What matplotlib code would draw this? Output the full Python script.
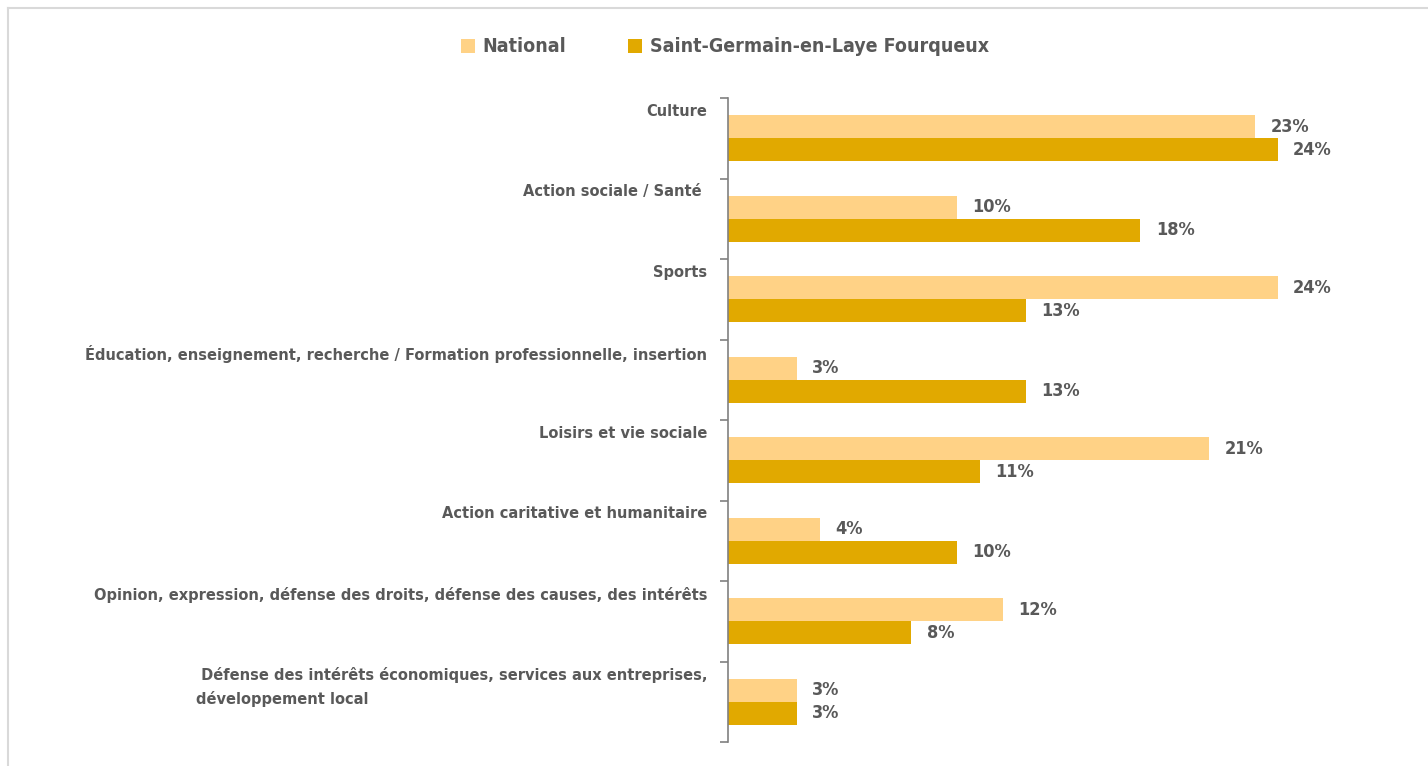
import matplotlib
matplotlib.use('Agg')
from matplotlib import pyplot as plt
from matplotlib import font_manager
from matplotlib.patches import Patch
from matplotlib.lines import Line2D

categories = [
    'Culture',
    'Action sociale / Santé ',
    'Sports',
    'Éducation, enseignement, recherche / Formation professionnelle, insertion',
    'Loisirs et vie sociale',
    'Action caritative et humanitaire',
    'Opinion, expression, défense des droits, défense des causes, des intérêts',
    ' Défense des intérêts économiques, services aux entreprises,\ndéveloppement local',
]
national = [23, 10, 24, 3, 21, 4, 12, 3]
local = [24, 18, 13, 13, 11, 10, 8, 3]
series_names = ['National', 'Saint-Germain-en-Laye Fourqueux']

c_nat = '#FFD286'
c_loc = '#E1A900'
grey = '#595959'

# pick the narrowest bold face that is installed
order = {'ultra-condensed': 0, 'extra-condensed': 1, 'condensed': 2, 'semi-condensed': 3}
best = None
for f in font_manager.fontManager.ttflist:
    if f.name in ('Noto Sans', 'DejaVu Sans', 'Open Sans', 'Roboto', 'Liberation Sans Narrow') \
            and f.stretch in order:
        w = f.weight if isinstance(f.weight, int) else 700
        if w < 600:
            continue
        key = (order[f.stretch], f.name)
        if best is None or key < best[0]:
            best = (key, f.name, f.stretch)
if best:
    family, stretch = best[1], best[2]
    scale = {0: 1.15, 1: 1.1, 2: 1.0, 3: 0.95}[order[stretch]]
else:
    family, stretch, scale = 'DejaVu Sans', 'normal', 0.85
plt.rcParams['font.family'] = [family, 'DejaVu Sans']
plt.rcParams['font.weight'] = 'bold'
plt.rcParams['font.stretch'] = stretch

fig = plt.figure(figsize=(14.28, 7.66), dpi=100)
ax = fig.add_axes([728 / 1428, 1 - 742 / 766, 692 / 1428, (742 - 98) / 766])

h = 0.285
ys = list(range(len(categories)))
ax.barh([y - h / 2 for y in ys], national, height=h, color=c_nat)
ax.barh([y + h / 2 for y in ys], local, height=h, color=c_loc)

ax.set_xlim(0, 30.2)
ax.set_ylim(len(categories) - 0.5, -0.5)

fs = 13 * scale
fs_cat = fs * 0.9
for y, v in zip(ys, national):
    ax.annotate(f'{v}%', xy=(v, y - h / 2), xytext=(11, 0), textcoords='offset points',
                va='center', ha='left', fontsize=fs, color=grey, fontweight='bold')
for y, v in zip(ys, local):
    ax.annotate(f'{v}%', xy=(v, y + h / 2), xytext=(11, 0), textcoords='offset points',
                va='center', ha='left', fontsize=fs, color=grey, fontweight='bold')

for y, lab in zip(ys, categories):
    ax.annotate(lab, xy=(0, y - 0.43), xycoords=('axes fraction', 'data'),
                xytext=(-15, 0), textcoords='offset points', ha='right', va='top',
                multialignment='left', fontsize=fs_cat, color=grey, fontweight='bold',
                linespacing=1.6)

ax.set_yticks([y - 0.5 for y in range(len(categories) + 1)])
ax.set_yticklabels([])
ax.tick_params(axis='y', direction='out', length=6, width=1.2, color='#808080')
ax.set_xticks([])
for s in ['top', 'right', 'bottom']:
    ax.spines[s].set_visible(False)
ax.spines['left'].set_color('#808080')
ax.spines['left'].set_linewidth(1.2)

handles = [Patch(facecolor=c_nat, edgecolor='none'), Patch(facecolor=c_loc, edgecolor='none')]
fig.legend(handles, series_names, loc='center', bbox_to_anchor=(725 / 1428, 1 - 47 / 766),
           ncol=2, frameon=False, handlelength=0.7, handleheight=0.7, handletextpad=0.4,
           columnspacing=3.2, prop={'size': 14 * scale, 'weight': 'bold', 'stretch': stretch},
           labelcolor=grey)

# light frame around the chart area
fig.add_artist(Line2D([8 / 1428, 1], [1 - 8 / 766, 1 - 8 / 766], color='#d9d9d9', lw=1.5))
fig.add_artist(Line2D([8 / 1428, 8 / 1428], [0, 1 - 8 / 766], color='#d9d9d9', lw=1.5))

fig.savefig('out.png', dpi=100)
